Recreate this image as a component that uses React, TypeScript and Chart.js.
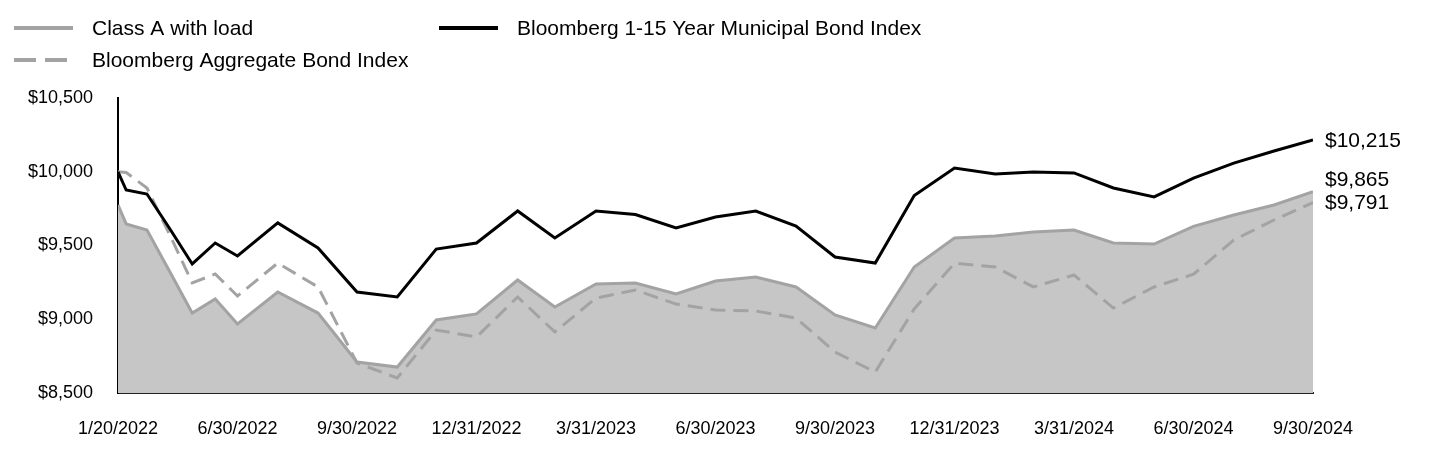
import React, { useEffect, useRef } from "react";
import { Chart, registerables } from "chart.js";

Chart.register(...registerables);

const tickDates = [
  "2022-01-20", "2022-06-30", "2022-09-30", "2022-12-31", "2023-03-31", "2023-06-30",
  "2023-09-30", "2023-12-31", "2024-03-31", "2024-06-30", "2024-09-30",
];
const tickLabels = [
  "1/20/2022", "6/30/2022", "9/30/2022", "12/31/2022", "3/31/2023", "6/30/2023",
  "9/30/2023", "12/31/2023", "3/31/2024", "6/30/2024", "9/30/2024",
];

const pointDates = [
  "2022-01-20", "2022-01-31", "2022-02-28", "2022-03-31", "2022-04-30", "2022-05-31",
  "2022-06-30", "2022-07-31", "2022-08-31", "2022-09-30", "2022-10-31", "2022-11-30",
  "2022-12-31", "2023-01-31", "2023-02-28", "2023-03-31", "2023-04-30", "2023-05-31",
  "2023-06-30", "2023-07-31", "2023-08-31", "2023-09-30", "2023-10-31", "2023-11-30",
  "2023-12-31", "2024-01-31", "2024-02-29", "2024-03-31", "2024-04-30", "2024-05-31",
  "2024-06-30", "2024-07-31", "2024-08-31", "2024-09-30",
];

const classA = [
  9775, 9646, 9605, 9320, 9042, 9137, 8968, 9185, 9042, 8710, 8676, 8995,
  9036, 9266, 9083, 9239, 9246, 9171, 9259, 9286, 9219, 9029, 8941, 9354,
  9551, 9564, 9592, 9605, 9517, 9510, 9630, 9707, 9775, 9865,
];
const muni = [
  10000, 9876, 9849, 9612, 9375, 9517, 9429, 9653, 9483, 9185, 9151, 9476,
  9517, 9734, 9551, 9734, 9710, 9619, 9693, 9734, 9632, 9422, 9381, 9839,
  10025, 9985, 9998, 9992, 9890, 9829, 9957, 10059, 10141, 10215,
];
const aggregate = [
  10000, 9995, 9890, 9570, 9246, 9307, 9158, 9381, 9219, 8703, 8602, 8927,
  8880, 9151, 8914, 9144, 9198, 9103, 9063, 9056, 9008, 8778, 8642, 9070,
  9381, 9354, 9219, 9300, 9076, 9219, 9305, 9537, 9673, 9791,
];

const yTicks = [8500, 9000, 9500, 10000, 10500];

const FONT = 'Arial, "Liberation Sans", Helvetica, sans-serif';
const GREY_LINE = "#a3a3a3";
const GREY_FILL = "#c6c6c6";

function dateToX(d: string): number {
  const t = Date.parse(d);
  for (let i = 0; i < tickDates.length - 1; i++) {
    const a = Date.parse(tickDates[i]);
    const b = Date.parse(tickDates[i + 1]);
    if (t >= a && t <= b) return i + (t - a) / (b - a);
  }
  return tickDates.length - 1;
}

function toPoints(values: number[]) {
  return values.map((v, i) => ({ x: dateToX(pointDates[i]), y: v }));
}

const fmt = (v: number) => "$" + v.toLocaleString("en-US");

const legendPlugin = {
  id: "customLegend",
  afterDraw(chart: any) {
    const ctx = chart.ctx;
    ctx.save();
    const items = [
      { label: "Class A with load", color: GREY_LINE, dash: [] as number[], x: 14, y: 28 },
      { label: "Bloomberg 1-15 Year Municipal Bond Index", color: "#000000", dash: [] as number[], x: 439, y: 28 },
      { label: "Bloomberg Aggregate Bond Index", color: GREY_LINE, dash: [22, 9], x: 14, y: 60 },
    ];
    for (const it of items) {
      ctx.beginPath();
      ctx.setLineDash(it.dash);
      ctx.strokeStyle = it.color;
      ctx.lineWidth = 4;
      ctx.moveTo(it.x, it.y);
      ctx.lineTo(it.x + 59, it.y);
      ctx.stroke();
      ctx.setLineDash([]);
      ctx.fillStyle = "#000";
      ctx.font = `21px ${FONT}`;
      ctx.textBaseline = "middle";
      ctx.textAlign = "left";
      ctx.fillText(it.label, it.x + 78, it.y + 1);
    }
    ctx.restore();
  },
};

const endLabelPlugin = {
  id: "endLabels",
  afterDatasetsDraw(chart: any) {
    const ctx = chart.ctx;
    const ys = chart.scales.y;
    const xr = chart.chartArea.right;
    const labels = chart.data.datasets.map((ds: any) => {
      const last = ds.data[ds.data.length - 1].y;
      return { text: fmt(last), y: ys.getPixelForValue(last) };
    });
    labels.sort((a: any, b: any) => b.y - a.y);
    const gap = 23;
    for (let i = 1; i < labels.length; i++) {
      if (labels[i - 1].y - labels[i].y < gap) labels[i].y = labels[i - 1].y - gap;
    }
    ctx.save();
    ctx.fillStyle = "#000";
    ctx.font = `21px ${FONT}`;
    ctx.textBaseline = "middle";
    ctx.textAlign = "left";
    for (const l of labels) ctx.fillText(l.text, xr + 12, l.y + 1);
    ctx.restore();
  },
};

export default function App() {
  const ref = useRef<HTMLCanvasElement>(null);

  useEffect(() => {
    document.body.style.margin = "0";
    const canvas = ref.current;
    if (!canvas) return;
    const chart = new Chart(canvas, {
      type: "line",
      data: {
        datasets: [
          {
            label: "Bloomberg 1-15 Year Municipal Bond Index",
            data: toPoints(muni),
            borderColor: "#000000",
            borderWidth: 3,
            pointRadius: 0,
            fill: false,
            tension: 0,
            order: 1,
          },
          {
            label: "Bloomberg Aggregate Bond Index",
            data: toPoints(aggregate),
            borderColor: GREY_LINE,
            borderWidth: 3,
            borderDash: [15, 8],
            pointRadius: 0,
            fill: false,
            tension: 0,
            order: 2,
          },
          {
            label: "Class A with load",
            data: toPoints(classA),
            borderColor: GREY_LINE,
            backgroundColor: GREY_FILL,
            borderWidth: 3,
            pointRadius: 0,
            fill: "start",
            tension: 0,
            order: 3,
          },
        ],
      },
      options: {
        animation: false,
        responsive: false,
        layout: { padding: { left: 0, top: 98, right: 127, bottom: 0 } },
        plugins: {
          legend: { display: false },
          tooltip: { enabled: false },
        },
        scales: {
          x: {
            type: "linear",
            min: 0,
            max: tickLabels.length - 1,
            afterBuildTicks: (scale: any) => {
              scale.ticks = tickLabels.map((_, i) => ({ value: i }));
            },
            afterFit: (scale: any) => {
              scale.height = 75;
            },
            grid: { display: false },
            border: { display: true, color: "#222", width: 2 },
            ticks: {
              autoSkip: false,
              maxRotation: 0,
              padding: 17,
              color: "#000",
              font: { family: FONT, size: 18 },
              callback: (v: any) => tickLabels[Math.round(Number(v))] ?? "",
            },
          },
          y: {
            type: "linear",
            min: yTicks[0],
            max: yTicks[yTicks.length - 1],
            afterBuildTicks: (scale: any) => {
              scale.ticks = yTicks.map((v) => ({ value: v }));
            },
            afterFit: (scale: any) => {
              scale.width = 118;
            },
            grid: { display: false },
            border: { display: true, color: "#000", width: 2 },
            ticks: {
              padding: 17,
              color: "#000",
              font: { family: FONT, size: 18 },
              callback: (v: any) => fmt(Number(v)),
            },
          },
        },
      },
      plugins: [legendPlugin, endLabelPlugin],
    });
    return () => chart.destroy();
  }, []);

  return (
    <div style={{ width: 1440, height: 468, background: "#fff" }}>
      <canvas ref={ref} width={1440} height={468} style={{ display: "block" }} />
    </div>
  );
}
